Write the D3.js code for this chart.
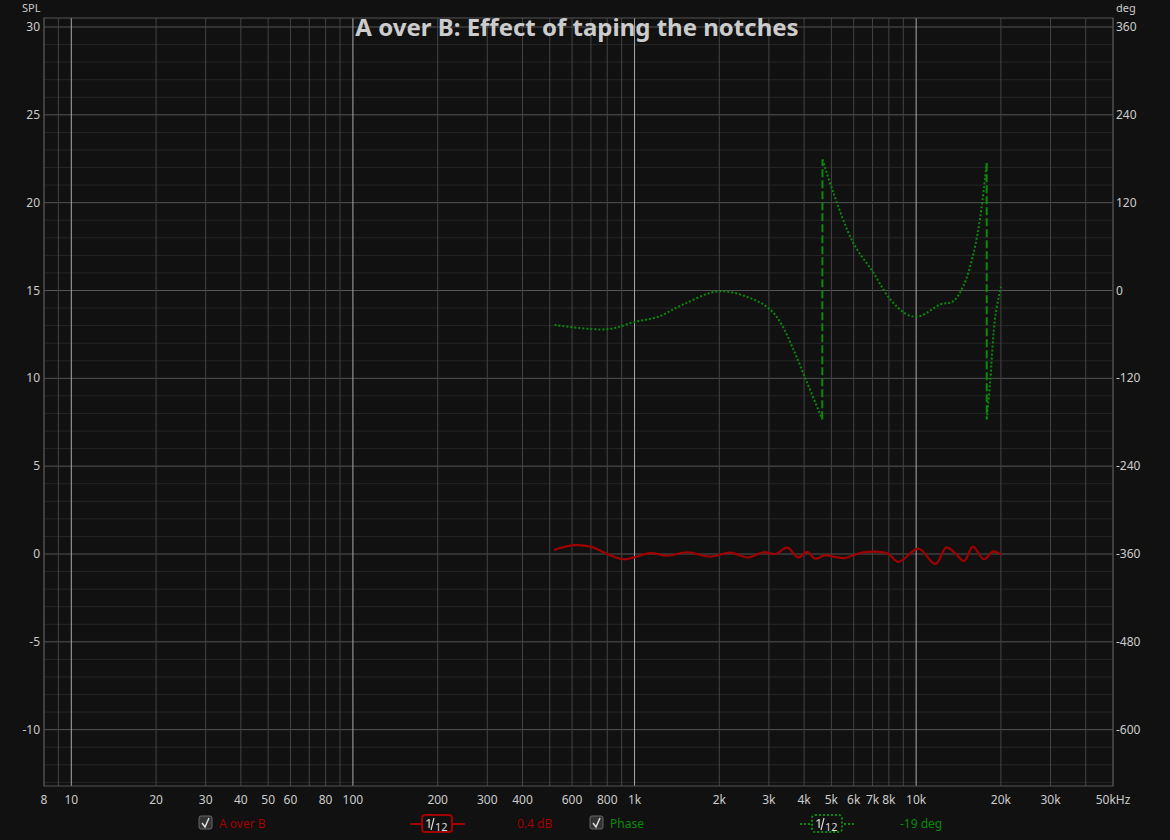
<!DOCTYPE html>
<html><head><meta charset="utf-8">
<script src="https://cdn.jsdelivr.net/npm/d3@7/dist/d3.min.js"></script>
<style>body{margin:0;background:#111}svg{display:block}text{font-family:"Noto Sans",sans-serif}</style>
</head><body>
<svg id="chart" width="1170" height="840"></svg>
<script>
// A over B magnitude (dB)
const splFreq = [517, 608, 698, 801, 914, 1140, 1310, 1540, 1860, 2190, 2520, 2870, 3160, 3490, 3810, 4100, 4380, 4750, 5080, 5600, 5980, 6700, 7900, 8650, 10200, 11700, 12800, 13700, 14800, 15900, 17400, 18800, 20000];
const splVals = [0.23, 0.5, 0.42, 0.0, -0.3, 0.05, -0.1, 0.1, -0.15, 0.08, -0.2, 0.1, 0.0, 0.36, -0.2, 0.12, -0.27, -0.06, -0.15, -0.23, -0.07, 0.12, 0.04, -0.45, 0.3, -0.57, 0.38, 0.08, -0.4, 0.42, -0.3, 0.15, -0.04];
// phase (deg), wrapped
const phFreq = [520, 801, 1000, 1210, 1490, 2000, 2640, 3030, 3300, 3660, 4100, 4640, 4650, 5080, 5980, 7030, 8090, 9300, 10300, 12200, 13500, 14700, 15900, 16900, 17800, 17810, 18300, 19100, 20000];
const phVals = [-47, -53, -43, -36, -19, -1, -12, -26, -44, -80, -126, -176, 179, 134, 65, 25, -12, -33, -35, -19, -15, 6, 47, 101, 174, -176, -126, -35, 5];
const xTicks = [8, 10, 20, 30, 40, 50, 60, 80, 100, 200, 300, 400, 600, 800, 1000, 2000, 3000, 4000, 5000, 6000, 7000, 8000, 10000, 20000, 30000, 50000];
const xTickLabels = ["8", "10", "20", "30", "40", "50", "60", "80", "100", "200", "300", "400", "600", "800", "1k", "2k", "3k", "4k", "5k", "6k", "7k", "8k", "10k", "20k", "30k", "50kHz"];
const splTicks = [-10, -5, 0, 5, 10, 15, 20, 25, 30];
const degTicks = [-600, -480, -360, -240, -120, 0, 120, 240, 360];

const L = 44, R = 1113, T = 18, B = 786;
const svg = d3.select("#chart");
const x = d3.scaleLog().domain([8, 50000]).range([L, R]);
const y = d3.scaleLinear().domain([0, 30]).range([554, 27]);
const yDeg = d3.scaleLinear().domain([-360, 360]).range([554, 27]);
const yMin = y.invert(B), yMax = y.invert(T);

svg.append("rect").attr("width", 1170).attr("height", 840).attr("fill", "#111");

const grid = svg.append("g");
// minor horizontal lines every 1 dB
d3.range(Math.ceil(yMin), Math.floor(yMax) + 1).forEach(v => {
  grid.append("line").attr("x1", L).attr("x2", R).attr("y1", y(v)).attr("y2", y(v))
    .attr("stroke", v % 5 === 0 ? "#555" : "#262626").attr("stroke-width", 1);
});
// vertical lines
const vLines = [];
[1, 10, 100, 1000, 10000].forEach(d => d3.range(1, 10).forEach(m => { const f = d * m; if (f >= 8 && f <= 50000) vLines.push(f); }));
vLines.forEach(f => {
  const decade = Math.abs(Math.log10(f) - Math.round(Math.log10(f))) < 1e-9 && f > 1;
  grid.append("line").attr("x1", x(f)).attr("x2", x(f)).attr("y1", T).attr("y2", B)
    .attr("stroke", decade ? "#aaa" : "#444").attr("stroke-width", 1);
});
svg.append("rect").attr("x", L).attr("y", T).attr("width", R - L).attr("height", B - T)
  .attr("fill", "none").attr("stroke", "#555");

// axis labels
const lbl = svg.append("g").attr("fill", "#ccc").attr("font-size", 12);
splTicks.forEach(v => lbl.append("text").attr("x", 40).attr("y", y(v) + 4).attr("text-anchor", "end").text(v));
degTicks.forEach(v => lbl.append("text").attr("x", 1116).attr("y", yDeg(v) + 4).text(v));
xTicks.forEach((f, i) => lbl.append("text").attr("x", x(f)).attr("y", 804).attr("text-anchor", "middle").text(xTickLabels[i]));
lbl.append("text").attr("x", 22).attr("y", 12).attr("font-size", 11).text("SPL");
lbl.append("text").attr("x", 1116).attr("y", 12).attr("font-size", 11).text("deg");
svg.append("text").attr("x", 577).attr("y", 36).attr("text-anchor", "middle").attr("font-size", 24)
  .attr("font-weight", "bold").attr("fill", "#ccc").text("A over B: Effect of taping the notches");

const red = "#a00000", green = "#0a8a0a";
// SPL curve
svg.append("path").datum(splFreq.map((f, i) => [f, splVals[i]]))
  .attr("d", d3.line().x(d => x(d[0])).y(d => y(d[1])).curve(d3.curveCatmullRom))
  .attr("fill", "none").attr("stroke", red).attr("stroke-width", 2.2);

// phase curve: split at wraps, wraps drawn dashed
const segs = [[]], wraps = [];
phFreq.forEach((f, i) => {
  if (i > 0 && Math.abs(phVals[i] - phVals[i - 1]) > 180) {
    wraps.push([[phFreq[i - 1], phVals[i - 1]], [f, phVals[i]]]);
    segs.push([]);
  }
  segs[segs.length - 1].push([f, phVals[i]]);
});
const phLine = d3.line().x(d => x(d[0])).y(d => yDeg(d[1])).curve(d3.curveCatmullRom);
segs.forEach(s => svg.append("path").datum(s).attr("d", phLine).attr("fill", "none")
  .attr("stroke", green).attr("stroke-width", 2).attr("stroke-dasharray", "2,2"));
wraps.forEach(w => svg.append("path").datum(w).attr("d", d3.line().x(d => x(d[0])).y(d => yDeg(d[1])))
  .attr("fill", "none").attr("stroke", green).attr("stroke-width", 2).attr("stroke-dasharray", "8,3"));

// legend
const lg = svg.append("g").attr("font-size", 12);
function checkbox(cx) {
  lg.append("rect").attr("x", cx).attr("y", 816).attr("width", 13).attr("height", 13).attr("rx", 2)
    .attr("fill", "#333").attr("stroke", "#666");
  lg.append("path").attr("d", `M${cx + 3},${823} L${cx + 6},${827} L${cx + 10},${818}`)
    .attr("fill", "none").attr("stroke", "#ddd").attr("stroke-width", 1.5);
}
function smoothBox(x0, color, dash) {
  lg.append("line").attr("x1", x0).attr("x2", x0 + 55).attr("y1", 824).attr("y2", 824)
    .attr("stroke", color).attr("stroke-width", 2).attr("stroke-dasharray", dash);
  lg.append("rect").attr("x", x0 + 12).attr("y", 815).attr("width", 30).attr("height", 17).attr("rx", 3)
    .attr("fill", "#111").attr("stroke", color).attr("stroke-width", 2).attr("stroke-dasharray", dash);
  lg.append("text").attr("x", x0 + 15).attr("y", 828).attr("fill", "#ddd").attr("font-size", 13).text("1");
  lg.append("line").attr("x1", x0 + 24).attr("y1", 818).attr("x2", x0 + 21).attr("y2", 830)
    .attr("stroke", "#ddd").attr("stroke-width", 1.2);
  lg.append("text").attr("x", x0 + 25).attr("y", 831).attr("fill", "#ddd").attr("font-size", 11).text("12");
}
checkbox(199);
lg.append("text").attr("x", 219).attr("y", 828).attr("fill", red).text("A over B");
smoothBox(410, red, null);
lg.append("text").attr("x", 517).attr("y", 828).attr("fill", red).text("0.4 dB");
checkbox(590);
lg.append("text").attr("x", 610).attr("y", 828).attr("fill", green).text("Phase");
smoothBox(800, green, "2,2");
lg.append("text").attr("x", 900).attr("y", 828).attr("fill", green).text("-19 deg");
</script>
</body></html>
